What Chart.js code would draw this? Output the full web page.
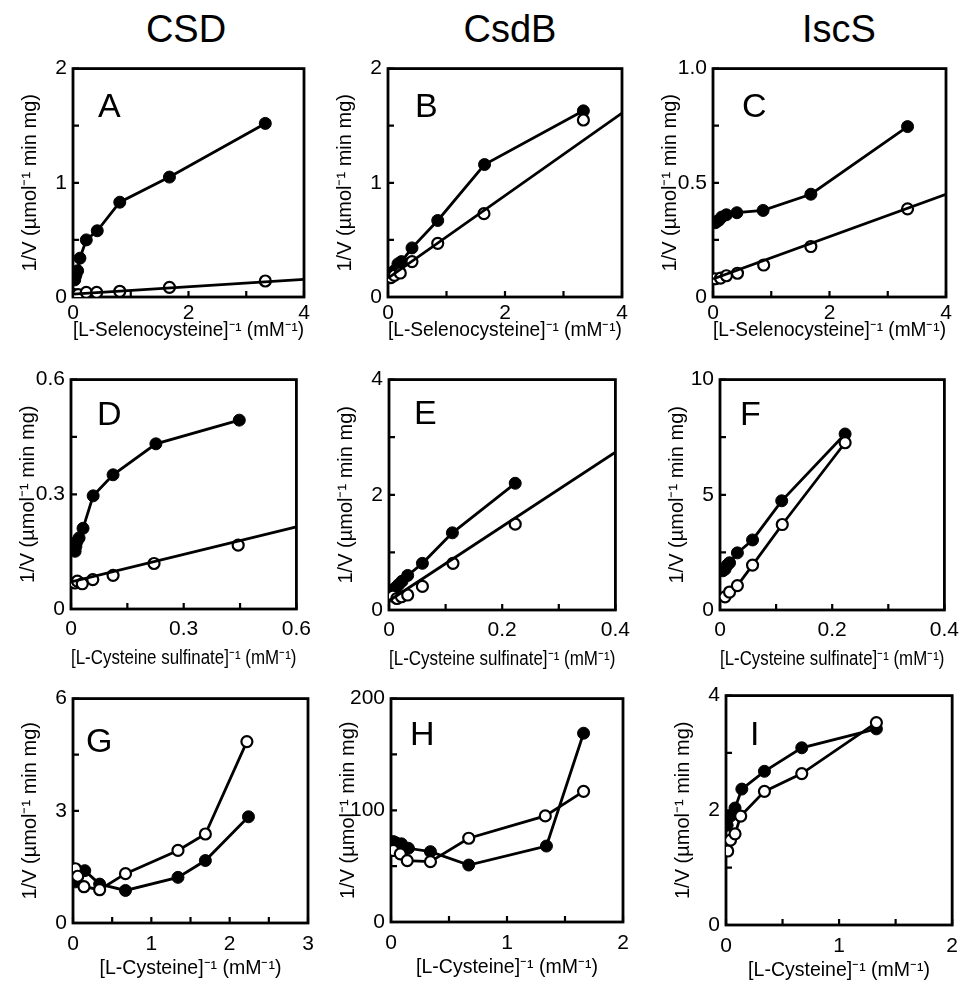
<!DOCTYPE html>
<html>
<head>
<meta charset="utf-8">
<script src="https://cdn.jsdelivr.net/npm/chart.js@4.4.0/dist/chart.umd.min.js"></script>
<style>
  body { margin: 0; background: #fff; width: 967px; height: 985px; overflow: hidden; position: relative;
         font-family: 'Liberation Sans', Arial, sans-serif; }
  canvas { position: absolute; }
  .enz { position: absolute; top: 7px; width: 200px; margin-left: -100px; text-align: center;
         font-size: 38px; line-height: 44px; color: #000; }
</style>
</head>
<body>
<div class="enz" style="left:186px">CSD</div>
<div class="enz" style="left:510px">CsdB</div>
<div class="enz" style="left:839px">IscS</div>

<script>
// --- data: [x, y] pairs, x = 1/[S] (mM-1), y = 1/V ---
// L-selenocysteine
const csdSecFilled  = [[0.03,0.15],[0.05,0.19],[0.08,0.23],[0.12,0.34],[0.23,0.50],[0.42,0.58],[0.81,0.83],[1.67,1.05],[3.33,1.52]];
const csdSecOpen    = [[0.03,0.02],[0.09,0.02],[0.23,0.04],[0.41,0.04],[0.81,0.05],[1.67,0.085],[3.33,0.14]];
const csdSecFit     = [[0,0.025],[4,0.155]];
const csdbSecFilled = [[0.04,0.17],[0.07,0.19],[0.11,0.23],[0.17,0.29],[0.23,0.31],[0.41,0.43],[0.85,0.67],[1.65,1.16],[3.34,1.63]];
const csdbSecOpen   = [[0.05,0.17],[0.11,0.19],[0.21,0.21],[0.41,0.31],[0.85,0.47],[1.64,0.73],[3.34,1.55]];
const csdbSecFit    = [[0,0.165],[4,1.61]];
const iscsSecFilled = [[0.04,0.325],[0.06,0.33],[0.10,0.336],[0.15,0.35],[0.23,0.36],[0.41,0.369],[0.86,0.379],[1.68,0.45],[3.34,0.746]];
const iscsSecOpen   = [[0.04,0.08],[0.13,0.083],[0.23,0.093],[0.42,0.104],[0.87,0.14],[1.68,0.221],[3.34,0.386]];
const iscsSecFit    = [[0,0.079],[4,0.45]];
// L-cysteine sulfinate
const csdCsaFilled  = [[0.011,0.151],[0.013,0.164],[0.016,0.177],[0.0215,0.186],[0.032,0.211],[0.059,0.296],[0.112,0.351],[0.226,0.432],[0.448,0.494]];
const csdCsaOpen    = [[0.01,0.068],[0.017,0.073],[0.03,0.066],[0.058,0.077],[0.112,0.088],[0.221,0.119],[0.445,0.167]];
const csdCsaFit     = [[0,0.071],[0.6,0.215]];
const csdbCsaFilled = [[0.007,0.34],[0.012,0.39],[0.017,0.44],[0.023,0.50],[0.033,0.60],[0.059,0.81],[0.112,1.34],[0.223,2.20]];
const csdbCsaOpen   = [[0.007,0.24],[0.014,0.20],[0.022,0.23],[0.033,0.26],[0.059,0.41],[0.113,0.81],[0.223,1.49]];
const csdbCsaFit    = [[0,0.16],[0.4,2.74]];
const iscsCsaFilled = [[0.005,1.70],[0.009,1.77],[0.013,1.95],[0.017,2.05],[0.031,2.48],[0.058,3.04],[0.110,4.74],[0.223,7.64]];
const iscsCsaOpen   = [[0.009,0.57],[0.017,0.78],[0.031,1.06],[0.058,1.95],[0.111,3.71],[0.223,7.26]];
// L-cysteine
const csdCysFilled  = [[0.03,1.10],[0.06,1.25],[0.15,1.40],[0.34,1.04],[0.67,0.87],[1.34,1.22],[1.69,1.67],[2.24,2.84]];
const csdCysOpen    = [[0.03,1.45],[0.06,1.25],[0.14,0.97],[0.34,0.89],[0.67,1.32],[1.34,1.94],[1.69,2.38],[2.22,4.85]];
const csdbCysFilled = [[0.02,72],[0.04,71],[0.09,70],[0.15,66],[0.34,63],[0.67,51],[1.34,68],[1.66,169]];
const csdbCysOpen   = [[0.02,64],[0.08,61],[0.14,55],[0.34,54],[0.67,75],[1.33,95],[1.66,117]];
const iscsCysFilled = [[0.01,1.74],[0.04,1.90],[0.08,2.04],[0.14,2.37],[0.34,2.68],[0.67,3.09],[1.33,3.42]];
const iscsCysOpen   = [[0.015,1.29],[0.04,1.48],[0.08,1.59],[0.13,1.90],[0.34,2.33],[0.67,2.64],[1.33,3.53]];

// tick labels (empty string = unlabelled minor tick)
const ticks0to4   = ['0','','2','','4'];
const ticks0to2   = ['0','','1','','2'];
const ticks0to1   = ['0','','0.5','','1.0'];
const ticks0to06  = ['0','','0.3','','0.6'];
const ticks0to04  = ['0','','0.2','','0.4'];
const ticks0to10  = ['0','','5','','10'];
const ticks0to3   = ['0','','1','','2','','3'];
const ticks0to6   = ['0','','3','','6'];
const ticks0to200 = ['0','','100','','200'];

const yTitle = '1/V (µmol⁻¹ min mg)';
const rows = [
  { title: '[L-Selenocysteine]⁻¹ (mM⁻¹)',     axisH: 45, pad: 4 },
  { title: '[L-Cysteine sulfinate]⁻¹ (mM⁻¹)', axisH: 61, pad: 8 },
  { title: '[L-Cysteine]⁻¹ (mM⁻¹)',           axisH: 57, pad: 9 }
];

const panels = [
  { name:'A', row:0, box:[73,63,304,297],  xMax:4,   xStep:1,    xT:ticks0to4,  yMax:2,   yStep:0.5,  yT:ticks0to2,   filled:csdSecFilled,  open:csdSecOpen,  fit:csdSecFit,  lp:[25,24] },
  { name:'B', row:0, box:[388,63,622,297], xMax:4,   xStep:1,    xT:ticks0to4,  yMax:2,   yStep:0.5,  yT:ticks0to2,   filled:csdbSecFilled, open:csdbSecOpen, fit:csdbSecFit, lp:[27,24] },
  { name:'C', row:0, box:[713,63,946,297], xMax:4,   xStep:1,    xT:ticks0to4,  yMax:1,   yStep:0.25, yT:ticks0to1,   filled:iscsSecFilled, open:iscsSecOpen, fit:iscsSecFit, lp:[29,24] },
  { name:'D', row:1, box:[71,374,303,609], xMax:0.6, xStep:0.15, xT:ticks0to06, yMax:0.6, yStep:0.15, yT:ticks0to06,  filled:csdCsaFilled,  open:csdCsaOpen,  fit:csdCsaFit,  lp:[26,21] },
  { name:'E', row:1, box:[389,374,622,610],xMax:0.4, xStep:0.1,  xT:ticks0to04, yMax:4,   yStep:1,    yT:['0','','2','','4'], filled:csdbCsaFilled, open:csdbCsaOpen, fit:csdbCsaFit, lp:[25,20] },
  { name:'F', row:1, box:[720,374,952,610],xMax:0.4, xStep:0.1,  xT:ticks0to04, yMax:10,  yStep:2.5,  yT:ticks0to10,  filled:iscsCsaFilled, open:iscsCsaOpen, fit:null,       lp:[20,21] },
  { name:'G', row:2, box:[73,693,308,923], xMax:3,   xStep:0.5,  xT:ticks0to3,  yMax:6,   yStep:1.5,  yT:ticks0to6,   filled:csdCysFilled,  open:csdCysOpen,  fit:null,       lp:[13,29] },
  { name:'H', row:2, box:[391,693,623,922],xMax:2,   xStep:0.5,  xT:ticks0to2,  yMax:200, yStep:50,   yT:ticks0to200, filled:csdbCysFilled, open:csdbCysOpen, fit:null,       lp:[19,22] },
  { name:'I', row:2, box:[726,690,957,925],xMax:2,   xStep:0.5,  xT:ticks0to2,  yMax:4,   yStep:1,    yT:['0','','2','','4'], filled:iscsCysFilled, open:iscsCysOpen, fit:null, lp:[24,25] }
];

Chart.defaults.font.family = "'Liberation Sans', Arial, sans-serif";
Chart.defaults.color = '#000';

const YW = 73, TOP = 13;

// frame, inward tick marks and the panel letter
const framePlugin = {
  id: 'frame',
  beforeDatasetsDraw(chart, args, opts) {
    const { ctx, chartArea: a, scales } = chart;
    ctx.save();
    ctx.strokeStyle = '#000';
    ctx.lineWidth = 2.8;
    ctx.strokeRect(a.left, a.top, a.right - a.left, a.bottom - a.top);
    ctx.lineWidth = 2.2;
    ctx.beginPath();
    scales.x.ticks.forEach(t => {
      const px = scales.x.getPixelForValue(t.value);
      ctx.moveTo(px, a.bottom); ctx.lineTo(px, a.bottom - 6);
    });
    scales.y.ticks.forEach(t => {
      const py = scales.y.getPixelForValue(t.value);
      ctx.moveTo(a.left, py); ctx.lineTo(a.left + 6, py);
    });
    ctx.stroke();
    ctx.fillStyle = '#000';
    ctx.font = "34px 'Liberation Sans', Arial, sans-serif";
    ctx.textBaseline = 'alphabetic';
    ctx.fillText(opts.letter, a.left + opts.lp[0], a.top + opts.lp[1] + 24);
    ctx.restore();
  }
};

const toXY = arr => arr.map(p => ({ x: p[0], y: p[1] }));

panels.forEach(p => {
  const row = rows[p.row];
  const [l, t, r, b] = p.box;
  const padRight = Math.min(16, 967 - r);
  const cv = document.createElement('canvas');
  cv.width = (r - l) + YW + padRight;
  cv.height = (b - t) + TOP + row.axisH;
  cv.style.left = (l - YW) + 'px';
  cv.style.top = (t - TOP) + 'px';
  document.body.appendChild(cv);

  const datasets = [];
  if (p.fit) {
    datasets.push({ data: toXY(p.fit), showLine: true, borderColor: '#000', borderWidth: 2.8, pointRadius: 0 });
  }
  datasets.push({
    data: toXY(p.open), showLine: !p.fit, borderColor: '#000', borderWidth: 2.8,
    pointRadius: 5.5, pointBackgroundColor: '#fff', pointBorderColor: '#000', pointBorderWidth: 2.2
  });
  datasets.push({
    data: toXY(p.filled), showLine: true, borderColor: '#000', borderWidth: 2.8,
    pointRadius: 6, pointBackgroundColor: '#000', pointBorderColor: '#000', pointBorderWidth: 1
  });

  new Chart(cv, {
    type: 'scatter',
    data: { datasets },
    options: {
      responsive: false,
      animation: false,
      events: [],
      layout: { padding: { top: TOP, right: padRight, left: 0, bottom: 0 } },
      plugins: {
        legend: { display: false },
        tooltip: { enabled: false },
        frame: { letter: p.name, lp: p.lp }
      },
      scales: {
        x: {
          type: 'linear', min: 0, max: p.xMax,
          grid: { display: false, drawTicks: false },
          border: { display: false },
          ticks: { stepSize: p.xStep, autoSkip: false, maxRotation: 0, padding: row.pad,
                   font: { size: 21 }, callback: (v, i) => p.xT[i] },
          title: { display: true, text: row.title, font: { size: 19.5 }, padding: 0 },
          afterFit: s => { s.height = row.axisH; }
        },
        y: {
          type: 'linear', min: 0, max: p.yMax,
          grid: { display: false, drawTicks: false },
          border: { display: false },
          ticks: { stepSize: p.yStep, autoSkip: false, padding: 6,
                   font: { size: 21 }, callback: (v, i) => p.yT[i] },
          title: { display: true, text: yTitle, font: { size: 20 }, padding: { top: 18, bottom: 0 } },
          afterFit: s => { s.width = YW; }
        }
      }
    },
    plugins: [framePlugin]
  });
});
</script>
</body>
</html>
